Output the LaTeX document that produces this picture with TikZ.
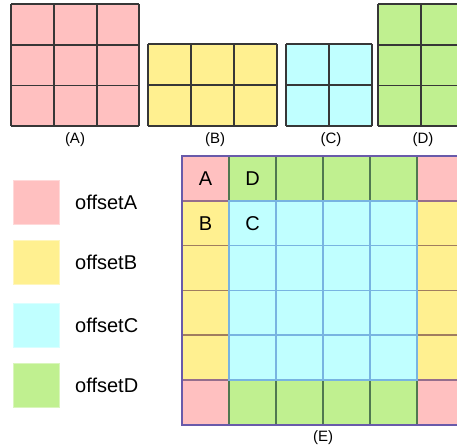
\documentclass[tikz,border=0pt]{standalone}
\usepackage{fontspec}
\setmainfont{Liberation Sans}
\definecolor{pinkc}{RGB}{255,192,192}
\definecolor{yellowc}{RGB}{255,240,144}
\definecolor{cyanc}{RGB}{192,255,255}
\definecolor{greenc}{RGB}{192,240,144}
\definecolor{pinkline}{RGB}{150,110,140}
\definecolor{yellowline}{RGB}{160,125,95}
\definecolor{cyanline}{RGB}{120,180,225}
\definecolor{greenline}{RGB}{80,120,80}
\definecolor{frameline}{RGB}{105,90,170}
\definecolor{gridc}{RGB}{55,55,55}
\begin{document}
\begin{tikzpicture}[x=1pt,y=-1pt,
  gridline/.style={draw=gridc,line width=1.1pt},
  caption/.style={anchor=base,inner sep=0pt,font=\fontsize{15}{18}\selectfont},
  celltext/.style={anchor=base,inner sep=0pt,font=\fontsize{20}{24}\selectfont},
  legendtext/.style={anchor=base west,inner sep=0pt,font=\fontsize{20}{24}\selectfont},
  swatch/.style={minimum width=46pt,minimum height=44pt,inner sep=0pt,line width=0.8pt},
  ecell/.style={line width=1.6pt}]
\clip (0,0) rectangle (457,447);
\fill[white] (0,0) rectangle (457,447);

% ---- small blocks (A)-(D) ----
% (A) 3x3
\fill[pinkc] (11,4) rectangle (139,126);
\foreach \x in {11,54,97,139} \draw[gridline] (\x,4) -- (\x,126);
\foreach \y in {4,45,85.5,126} \draw[gridline] (11,\y) -- (139,\y);
% (B) 3x2
\fill[yellowc] (148,44) rectangle (277,126);
\foreach \x in {148,191,234,277} \draw[gridline] (\x,44) -- (\x,126);
\foreach \y in {44,85,126} \draw[gridline] (148,\y) -- (277,\y);
% (C) 2x2
\fill[cyanc] (286,44) rectangle (372,126);
\foreach \x in {286,329,372} \draw[gridline] (\x,44) -- (\x,126);
\foreach \y in {44,85,126} \draw[gridline] (286,\y) -- (372,\y);
% (D) 2x3
\fill[greenc] (378,4) rectangle (464,126);
\foreach \x in {378,421,464} \draw[gridline] (\x,4) -- (\x,126);
\foreach \y in {4,45,85.5,126} \draw[gridline] (378,\y) -- (464,\y);

\node[caption] (capA) at (75,143) {(A)};
\node[caption] (capB) at (215,143) {(B)};
\node[caption] (capC) at (331,143) {(C)};
\node[caption] (capD) at (423,143) {(D)};

% ---- legend ----
\node[swatch,fill=pinkc,draw=pinkc!60] (swA) at (36,202) {};
\node[swatch,fill=yellowc,draw=yellowc!60] (swB) at (36,262) {};
\node[swatch,fill=cyanc,draw=cyanc!60] (swC) at (36,325.5) {};
\node[swatch,fill=greenc,draw=greenc!60] (swD) at (36,385) {};
\node[legendtext] (lgA) at (75,209) {offsetA};
\node[legendtext] (lgB) at (75,269) {offsetB};
\node[legendtext] (lgC) at (75,332.5) {offsetC};
\node[legendtext] (lgD) at (75,392) {offsetD};

% ---- combined block (E), 6x6 cells ----
\def\cw{47}
\def\ch{44.8}
% yellow side cells
\foreach \i in {0,5} \foreach \j in {1,...,4}
  \draw[ecell,fill=yellowc,draw=yellowline]
    ({182+\i*\cw},{156+\j*\ch}) rectangle ++(\cw,\ch);
% pink corner cells
\foreach \i in {0,5} \foreach \j in {0,5}
  \draw[ecell,fill=pinkc,draw=pinkline]
    ({182+\i*\cw},{156+\j*\ch}) rectangle ++(\cw,\ch);
% green top and bottom cells
\foreach \i in {1,...,4} \foreach \j in {0,5}
  \draw[ecell,fill=greenc,draw=greenline]
    ({182+\i*\cw},{156+\j*\ch}) rectangle ++(\cw,\ch);
% cyan inner cells
\foreach \i in {1,...,4} \foreach \j in {1,...,4}
  \draw[ecell,fill=cyanc,draw=cyanline]
    ({182+\i*\cw},{156+\j*\ch}) rectangle ++(\cw,\ch);
% outer frame
\draw[frameline,line width=1.6pt] (182,156) rectangle (464,424.8);

\node[celltext] (eA) at (205.5,185.4) {A};
\node[celltext] (eD) at (252.5,185.4) {D};
\node[celltext] (eB) at (205.5,230.2) {B};
\node[celltext] (eC) at (252.5,230.2) {C};
\node[caption] (capE) at (323,441) {(E)};
\end{tikzpicture}
\end{document}
